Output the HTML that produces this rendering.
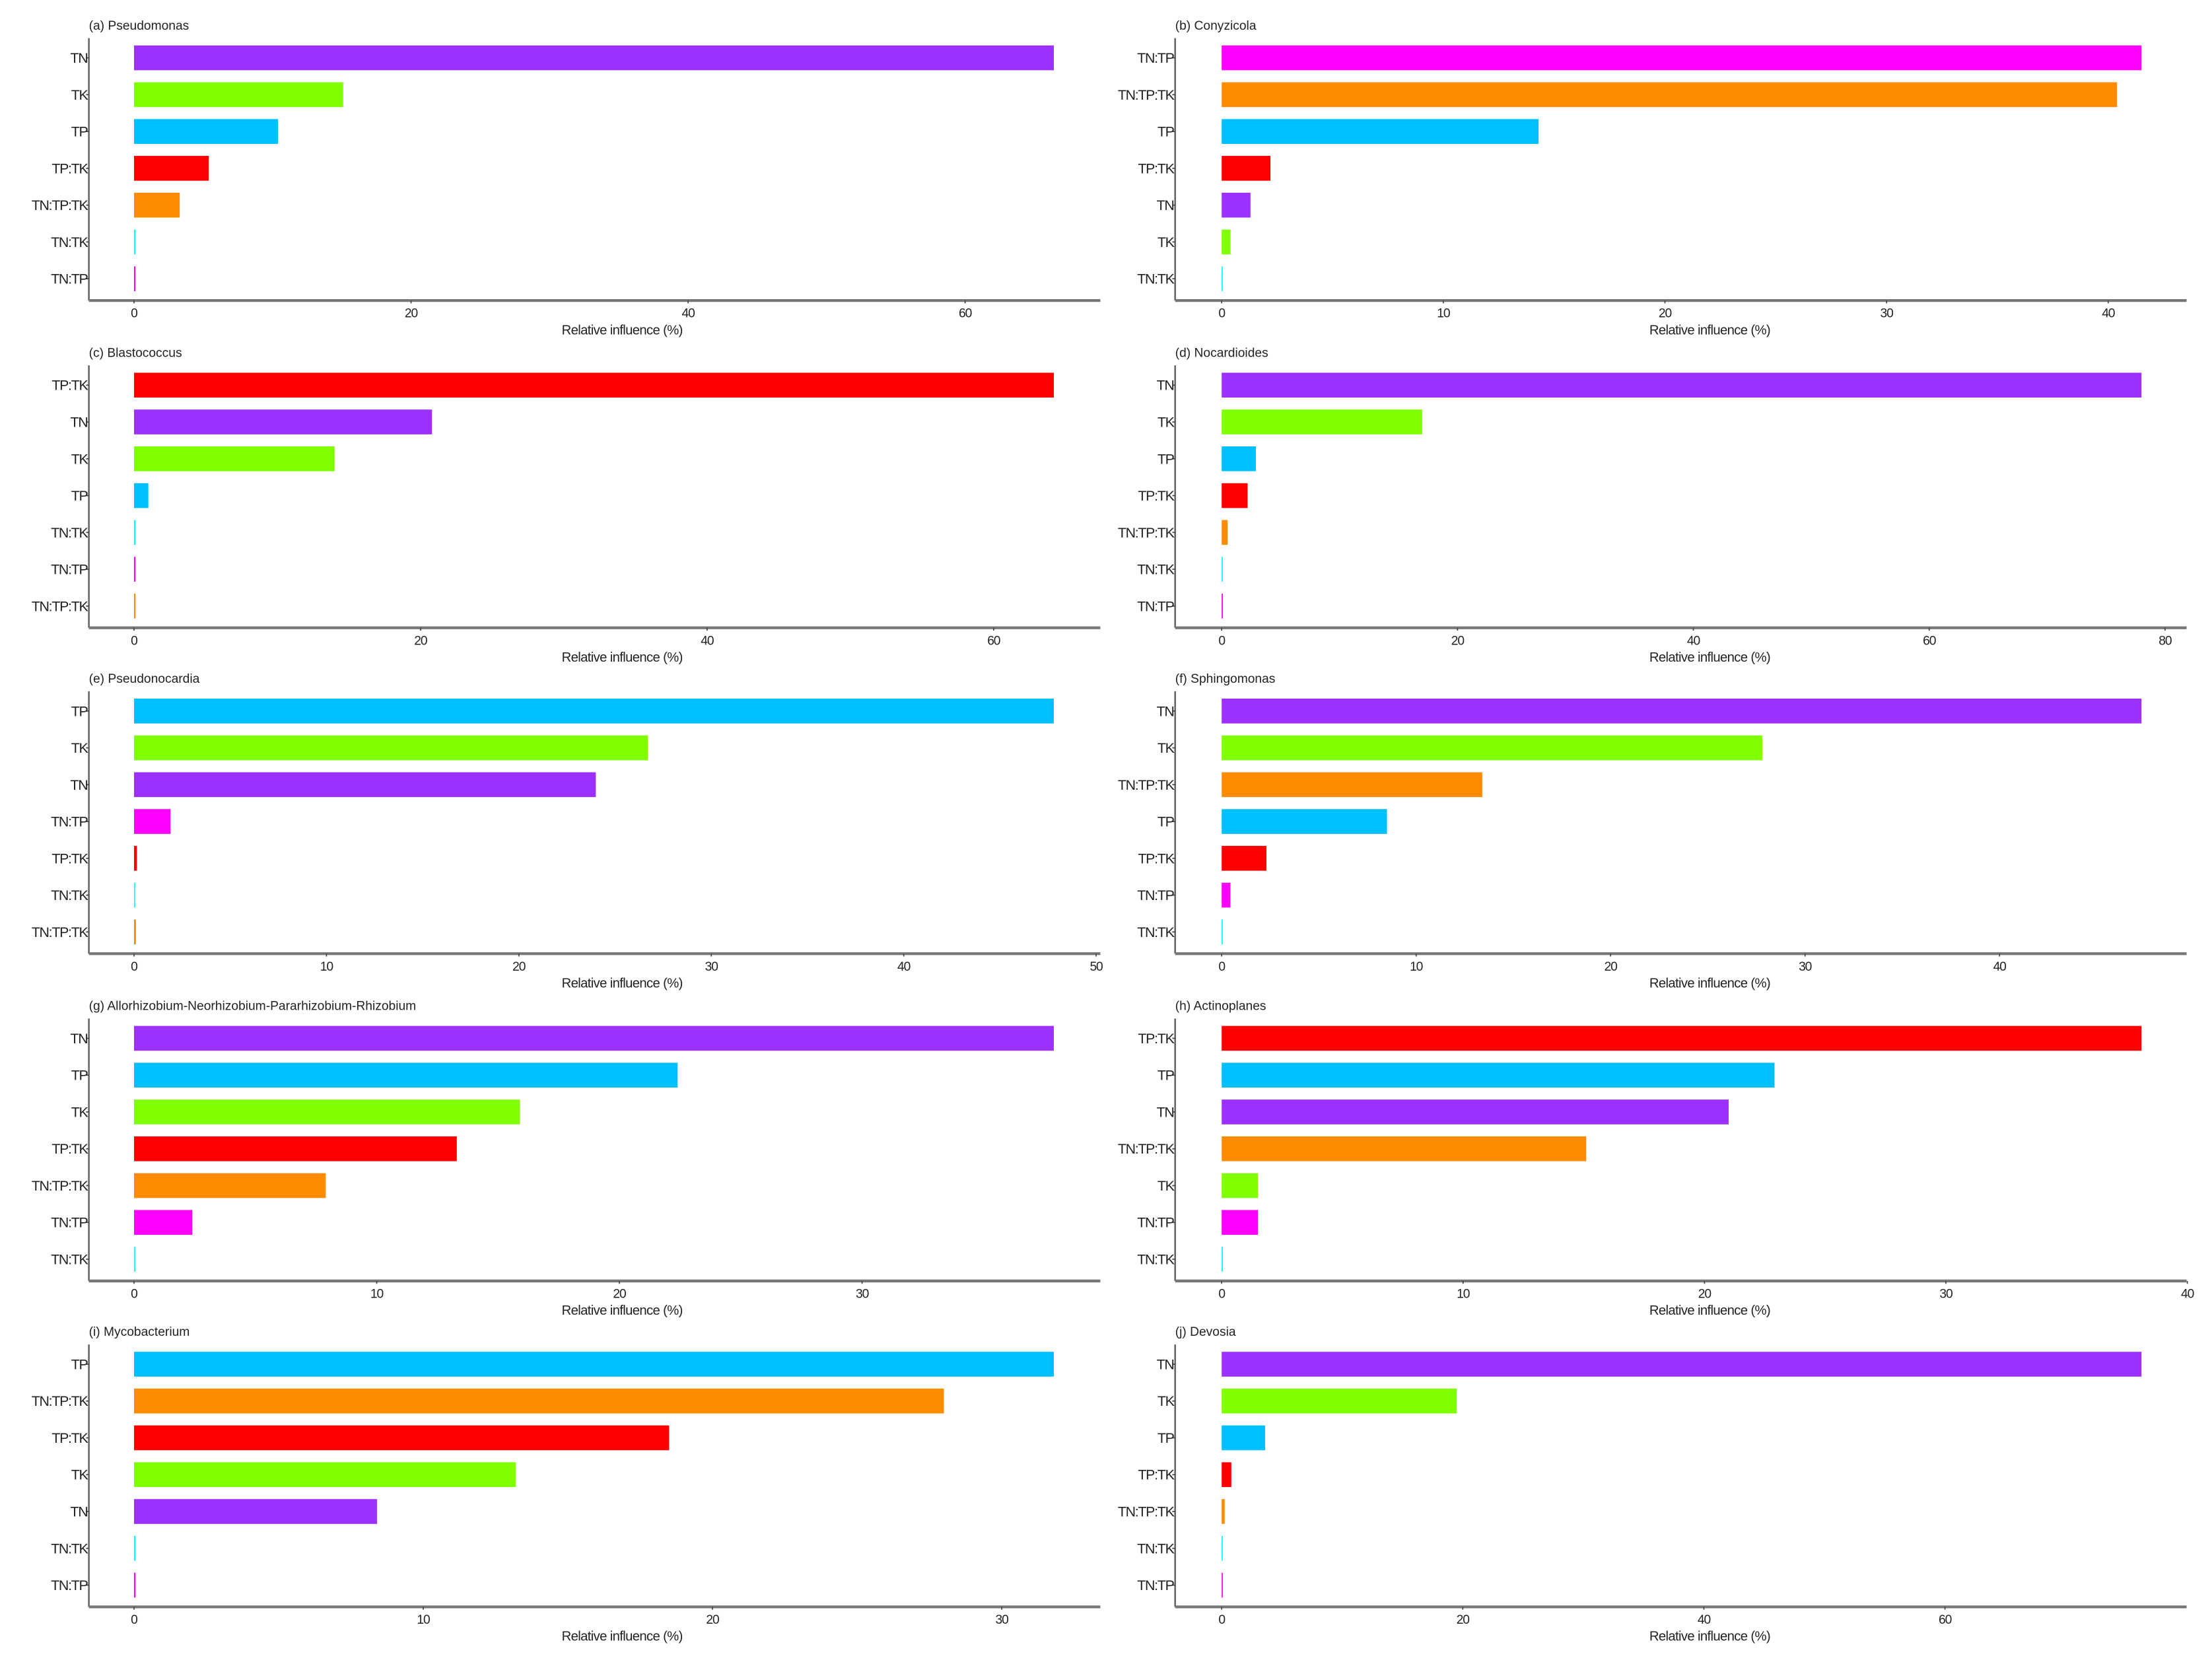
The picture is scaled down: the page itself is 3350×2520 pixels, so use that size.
<!DOCTYPE html>
<html><head><meta charset="utf-8"><style>
html,body{margin:0;padding:0;background:#fff}
svg{display:block}
text{font-family:"Liberation Sans",sans-serif;fill:#222}
</style></head><body>
<svg id="fig" width="3350" height="2520" viewBox="0 0 1568 1179.5" xmlns="http://www.w3.org/2000/svg"></svg>
<script>
const panelTitles = ["(a) Pseudomonas","(b) Conyzicola","(c) Blastococcus","(d) Nocardioides","(e) Pseudonocardia","(f) Sphingomonas","(g) Allorhizobium-Neorhizobium-Pararhizobium-Rhizobium","(h) Actinoplanes","(i) Mycobacterium","(j) Devosia"];
const catsA = ["TN","TK","TP","TP:TK","TN:TP:TK","TN:TK","TN:TP"];
const valsA = [66.4,15.1,10.4,5.4,3.3,0.1,0.1];
const catsB = ["TN:TP","TN:TP:TK","TP","TP:TK","TN","TK","TN:TK"];
const valsB = [41.5,40.4,14.3,2.2,1.3,0.4,0.05];
const catsC = ["TP:TK","TN","TK","TP","TN:TK","TN:TP","TN:TP:TK"];
const valsC = [64.2,20.8,14.0,1.0,0.1,0.1,0.1];
const catsD = ["TN","TK","TP","TP:TK","TN:TP:TK","TN:TK","TN:TP"];
const valsD = [78.0,17.0,2.9,2.2,0.5,0.1,0.1];
const catsE = ["TP","TK","TN","TN:TP","TP:TK","TN:TK","TN:TP:TK"];
const valsE = [47.8,26.7,24.0,1.9,0.15,0.05,0.1];
const catsF = ["TN","TK","TN:TP:TK","TP","TP:TK","TN:TP","TN:TK"];
const valsF = [47.3,27.8,13.4,8.5,2.3,0.45,0.05];
const catsG = ["TN","TP","TK","TP:TK","TN:TP:TK","TN:TP","TN:TK"];
const valsG = [37.9,22.4,15.9,13.3,7.9,2.4,0.05];
const catsH = ["TP:TK","TP","TN","TN:TP:TK","TK","TN:TP","TN:TK"];
const valsH = [38.1,22.9,21.0,15.1,1.5,1.5,0.05];
const catsI = ["TP","TN:TP:TK","TP:TK","TK","TN","TN:TK","TN:TP"];
const valsI = [31.8,28.0,18.5,13.2,8.4,0.05,0.05];
const catsJ = ["TN","TK","TP","TP:TK","TN:TP:TK","TN:TK","TN:TP"];
const valsJ = [76.3,19.5,3.6,0.8,0.25,0.05,0.05];
const ticksA = [0,20,40,60];
const ticksB = [0,10,20,30,40];
const ticksC = [0,20,40,60];
const ticksD = [0,20,40,60,80];
const ticksE = [0,10,20,30,40,50];
const ticksF = [0,10,20,30,40];
const ticksG = [0,10,20,30];
const ticksH = [0,10,20,30,40];
const ticksI = [0,10,20,30];
const ticksJ = [0,20,40,60];

const colorMap = {"TN":"#9B30FF","TK":"#7FFF00","TP":"#00BFFF","TP:TK":"#FF0000","TN:TP:TK":"#FF8C00","TN:TK":"#00FFFF","TN:TP":"#FF00FF"};
const panels = [
 [catsA,valsA,ticksA],[catsB,valsB,ticksB],[catsC,valsC,ticksC],[catsD,valsD,ticksD],[catsE,valsE,ticksE],
 [catsF,valsF,ticksF],[catsG,valsG,ticksG],[catsH,valsH,ticksH],[catsI,valsI,ticksI],[catsJ,valsJ,ticksJ]];
const NS="http://www.w3.org/2000/svg";
const svg=document.getElementById('fig');
function mk(tag,attrs,parent){const e=document.createElementNS(NS,tag);for(const k in attrs)e.setAttribute(k,attrs[k]);(parent||svg).appendChild(e);return e;}
const rowTops=[17,249,480,712,943];
panels.forEach((p,i)=>{
  const [cats,vals,ticks]=p;
  const col=i%2, row=Math.floor(i/2);
  const yt=rowTops[row];
  const axX = col===0?63:833;
  const x0 = col===0?95:866;
  const xMaxPix = col===0?747:1518;
  const axEnd = col===0?780:1550;
  const vmax = Math.max(...vals);
  const xs = v => x0 + v/vmax*(xMaxPix-x0);
  const axY = yt+196;
  const g=mk('g',{});
  
  
  const t=mk('text',{x:axX,y:yt+4,'font-size':9},g); t.textContent=panelTitles[i];
  
  
  const ya=mk('line',{x1:axX,y1:yt+10,x2:axX,y2:axY,stroke:'#666','stroke-width':1.2},g);
  
  
  const xa=mk('line',{x1:axX,y1:axY,x2:axEnd,y2:axY,stroke:'#777','stroke-width':2},g);
  
  
  cats.forEach((c,k)=>{
    const cy=yt+24+k*26.1;
    const r=mk('rect',{x:x0,y:cy-8.8,width:Math.max(xs(vals[k])-x0,0.8),height:17.6,fill:colorMap[c]},g);
    
    
    mk('line',{x1:axX-2,y1:cy,x2:axX,y2:cy,stroke:'#444','stroke-width':0.8},g);
    const l=mk('text',{x:axX-1,y:cy+3.5,'font-size':10,'text-anchor':'end','letter-spacing':-0.6},g); l.textContent=c;
    
    
  });
  ticks.forEach(tv=>{
    const tx=xs(tv);
    mk('line',{x1:tx,y1:axY,x2:tx,y2:axY+2,stroke:'#444','stroke-width':0.8},g);
    const l=mk('text',{x:tx,y:axY+12,'font-size':9,'text-anchor':'middle','letter-spacing':-0.5},g); l.textContent=tv;
    
    
  });
  const at=mk('text',{x:col===0?441:1212,y:axY+24,'font-size':9.5,'text-anchor':'middle','letter-spacing':-0.3},g); at.textContent='Relative influence (%)';
  
  
});
</script>
</body></html>
